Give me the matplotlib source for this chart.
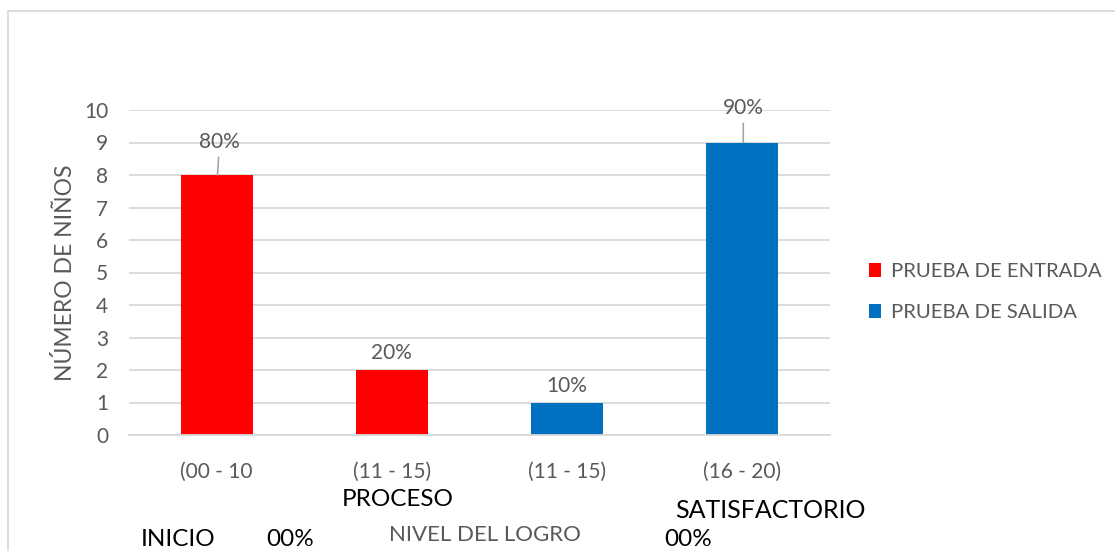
import matplotlib.pyplot as plt
import numpy as np

categories = ["(00 - 10", "(11 - 15)", "(11 - 15)", "(16 - 20)"]
entrada = [8, 2, 0, 0]
salida = [0, 0, 1, 9]
pct_labels = ["80%", "20%", "10%", "90%"]
yticks = list(range(0, 11))

STYLE = {
    'red': '#FF0000',
    'blue': '#0070C0',
    'grid': '#D9D9D9',
    'text': '#595959',
    'font': 'Lato',
}
plt.rcParams['font.family'] = [STYLE['font'], 'DejaVu Sans']

fig = plt.figure(figsize=(11.15, 5.51), dpi=100, facecolor='white')
ax = fig.add_axes([129 / 1115, 1 - 435 / 551, 701 / 1115, 325 / 551])

x = np.arange(len(categories))
values = [e if e else s for e, s in zip(entrada, salida)]
ax.bar(x[:2], entrada[:2], width=0.41, color=STYLE['red'], label="PRUEBA DE ENTRADA", zorder=2)
ax.bar(x[2:], salida[2:], width=0.41, color=STYLE['blue'], label="PRUEBA DE SALIDA", zorder=2)

ax.set_xlim(-0.5, 3.5)
ax.set_ylim(0, 10)
ax.set_yticks(yticks)
ax.set_xticks(x)
ax.set_xticklabels(categories)
ax.tick_params(length=0, labelsize=15, colors=STYLE['text'])
ax.tick_params(axis='x', pad=19)
ax.tick_params(axis='y', pad=15)
ax.yaxis.grid(True, color=STYLE['grid'], linewidth=1.3, zorder=0)
for s in ['top', 'right', 'left']:
    ax.spines[s].set_visible(False)
ax.spines['bottom'].set_color(STYLE['grid'])
ax.spines['bottom'].set_linewidth(1.3)

ax.set_ylabel("NÚMERO DE NIÑOS", fontsize=16.5, color=STYLE['text'], labelpad=6)

# data labels, the tall bars get a short leader line
offsets = [(1.5, 24), (0, 12), (0, 12), (0, 25)]
for i, (v, lab, off) in enumerate(zip(values, pct_labels, offsets)):
    if off[1] > 20:
        ax.annotate(lab, xy=(x[i] + 0.005, v), xytext=off, textcoords='offset points',
                    ha='center', va='center', fontsize=15, color=STYLE['text'],
                    arrowprops=dict(arrowstyle='-', color='#A6A6A6', lw=1.2,
                                    shrinkA=2, shrinkB=0))
    else:
        ax.annotate(lab, xy=(x[i], v), xytext=off, textcoords='offset points',
                    ha='center', va='center', fontsize=15, color=STYLE['text'])

leg = ax.legend(loc='center left', bbox_to_anchor=(1.03, 0.44), frameon=False,
                fontsize=14.6, handlelength=0.6, handleheight=0.7, handletextpad=0.45,
                labelspacing=1.15, labelcolor=STYLE['text'])

fig.text(485 / 1115, 1 - 535 / 551, "NIVEL DEL LOGRO", fontsize=16, color=STYLE['text'],
         ha='center', va='center')
fig.text(398 / 1115, 1 - 500 / 551, "PROCESO", fontsize=17.5, color='black', ha='center', va='center')
fig.text(770 / 1115, 1 - 510 / 551, "SATISFACTORIO", fontsize=18, color='black', ha='center', va='center')
fig.text(178 / 1115, 1 - 539 / 551, "INICIO", fontsize=17.5, color='black', ha='center', va='center')
fig.text(290 / 1115, 1 - 539 / 551, "00%", fontsize=17.5, color='black', ha='center', va='center')
fig.text(688 / 1115, 1 - 540 / 551, "00%", fontsize=17.5, color='black', ha='center', va='center')

border = plt.Rectangle((8 / 1115, -0.05), 1.1, 1 - 11 / 551 + 0.05, transform=fig.transFigure,
                       fill=False, edgecolor='#D9D9D9', linewidth=1.3)
fig.patches.append(border)

fig.savefig("out.png", dpi=100, facecolor='white')
